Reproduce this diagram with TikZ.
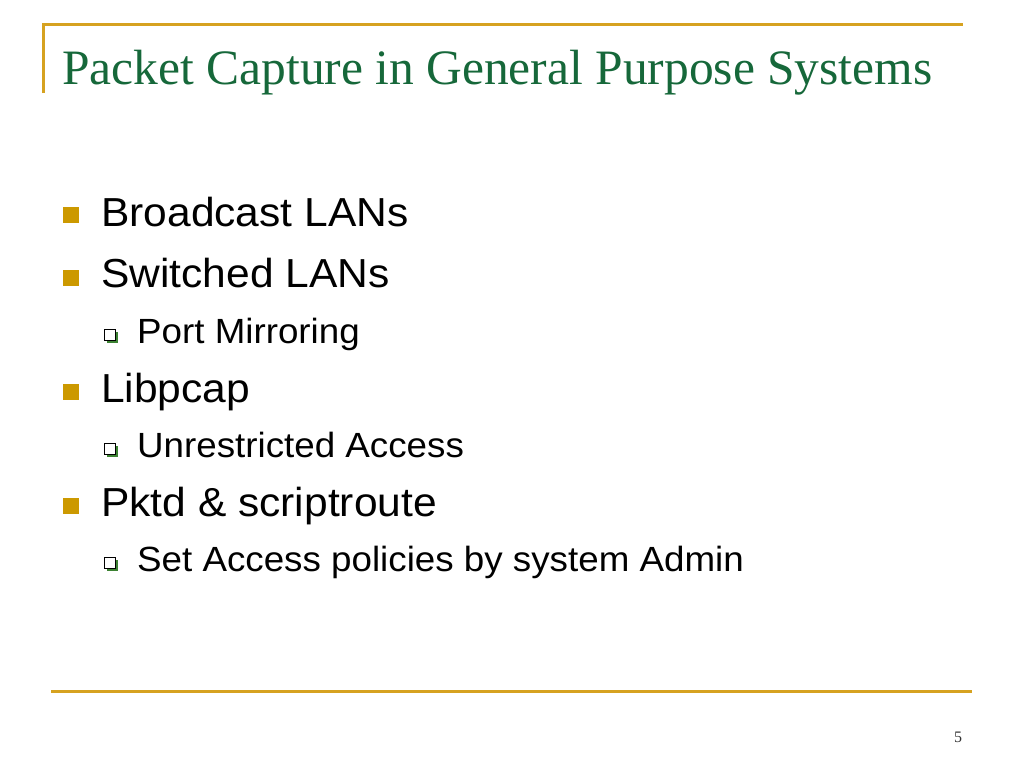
\documentclass[tikz,border=0pt]{standalone}
\usepackage{fontspec}
\setmainfont{Liberation Serif}
\newfontfamily\bodyfont{Liberation Sans}
\definecolor{goldline}{RGB}{214,162,32}
\definecolor{goldbullet}{RGB}{204,153,0}
\definecolor{titlegreen}{RGB}{22,104,58}
\definecolor{shadowgreen}{RGB}{60,130,50}
\begin{document}
\begin{tikzpicture}[x=1pt,y=-1pt,
  rule/.style={goldline,line width=3pt},
  lvlone/.style={anchor=base west,inner sep=0pt,font=\bodyfont\fontsize{40.5}{42}\selectfont,xscale=1.05,transform shape},
  lvltwo/.style={anchor=base west,inner sep=0pt,font=\bodyfont\fontsize{35}{37}\selectfont,xscale=1.05,transform shape},
  bulletone/.style={fill=goldbullet,minimum size=16pt,inner sep=0pt,draw=none},
  bullettwo/.style={fill=white,draw=black,line width=0.7pt,minimum size=11pt,inner sep=0pt},
  bshadow/.style={fill=shadowgreen,minimum size=11pt,inner sep=0pt,draw=none}]
\useasboundingbox (0,0) rectangle (1024,768);
\fill[white] (0,0) rectangle (1024,768);
% frame rules
\coordinate (tl) at (43,25);
\coordinate (tr) at (963,25);
\coordinate (vl) at (43,93);
\coordinate (bl) at (51,691);
\coordinate (br) at (972,691);
\draw[rule] (vl) -- (tl) -- (tr);
\draw[rule] (bl) -- (br);
% title
\node[anchor=base west,inner sep=0pt,text=titlegreen,font=\fontsize{49.5}{52}\selectfont] (title) at (62,84) {Packet Capture in General Purpose Systems};
% level one bullets
\node[bulletone] (b1) at (71,215) {};
\node[lvlone] (t1) at (101,226) {Broadcast LANs};
\node[bulletone] (b2) at (71,278) {};
\node[lvlone] (t2) at (101,287) {Switched LANs};
\node[bulletone] (b3) at (71,392) {};
\node[lvlone] (t3) at (101,402) {Libpcap};
\node[bulletone] (b4) at (71,506) {};
\node[lvlone] (t4) at (101,516) {Pktd \& scriptroute};
% level two bullets
\foreach \n/\y/\txt in {s1/335/Port Mirroring, s2/449/Unrestricted Access, s3/563/Set Access policies by system Admin}{
  \node[bshadow] (\n sh) at (112,\y+2) {};
  \node[bullettwo] (\n b) at (110,\y) {};
  \node[lvltwo] (\n t) at (137,\y+8) {\txt};
}
% page number
\node[anchor=base,inner sep=0pt,font=\fontsize{16}{18}\selectfont,text=black!80] (pg) at (958,742) {5};
\end{tikzpicture}
\end{document}
